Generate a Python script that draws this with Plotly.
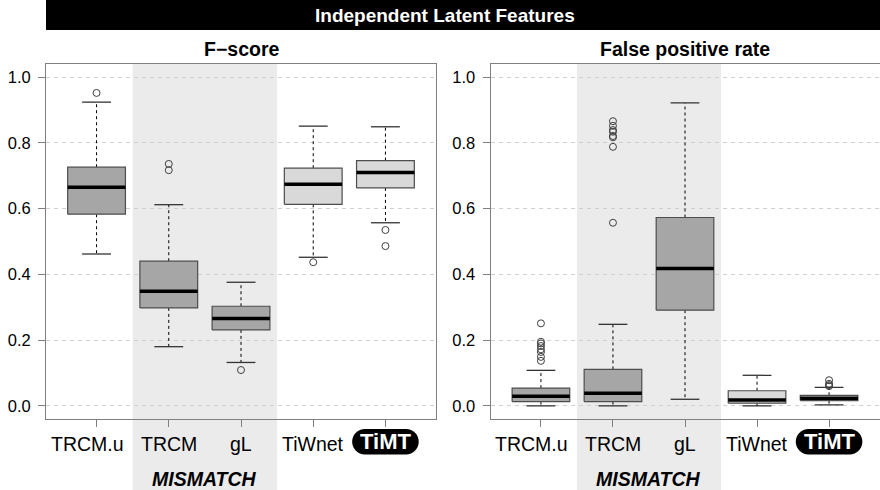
import plotly.graph_objects as go

# ---------------------------------------------------------------------------
# Data: per-method box-plot summaries for the two metrics
# ---------------------------------------------------------------------------
methods = ["TRCM.u", "TRCM", "gL", "TiWnet", "TiMT"]
positions = [1, 2, 3, 4, 5]
fill_groups = ["dark", "dark", "dark", "light", "light"]

# F-score
fs_lower = [0.462, 0.180, 0.132, 0.452, 0.557]
fs_q1 = [0.583, 0.298, 0.231, 0.613, 0.663]
fs_median = [0.665, 0.349, 0.266, 0.674, 0.710]
fs_q3 = [0.726, 0.440, 0.303, 0.723, 0.746]
fs_upper = [0.924, 0.612, 0.376, 0.851, 0.849]
fs_outliers = [[0.952], [0.717, 0.736], [0.109], [0.437], [0.535, 0.486]]

# False positive rate
fpr_lower = [0.000, 0.000, 0.020, 0.000, 0.003]
fpr_q1 = [0.013, 0.013, 0.291, 0.008, 0.016]
fpr_median = [0.029, 0.0385, 0.418, 0.018, 0.023]
fpr_q3 = [0.054, 0.111, 0.573, 0.046, 0.032]
fpr_upper = [0.108, 0.248, 0.922, 0.093, 0.056]
fpr_outliers = [
    [0.137, 0.149, 0.164, 0.172, 0.182, 0.190, 0.195, 0.251],
    [0.557, 0.788, 0.817, 0.821, 0.834, 0.839, 0.852, 0.866],
    [],
    [],
    [0.060, 0.063, 0.067, 0.078],
]

y_tickvals = [0.0, 0.2, 0.4, 0.6, 0.8, 1.0]
y_ticktext = ["0.0", "0.2", "0.4", "0.6", "0.8", "1.0"]

main_title = "Independent Latent Features"
panel_titles = ["F\u2212score", "False positive rate"]
group_label = "MISMATCH"
mismatch_span = (1.5, 3.5)
highlight_method = "TiMT"

# ---------------------------------------------------------------------------
# Styling / layout constants
# ---------------------------------------------------------------------------
W, H = 880, 490
FONT = "Liberation Sans, Arial, Helvetica, sans-serif"
FILLS = {"dark": "#a6a6a6", "light": "#d9d9d9"}
BAND = "#ebebeb"
FRAME = "#808080"
BOX_EDGE = "#4d4d4d"
BOX_W = 0.8
STAPLE_W = 0.4
X_RANGE = [0.3, 5.7]
Y_RANGE = [-0.04, 1.04]

y_dom = [1 - 419 / H, 1 - 64 / H]
x_doms = [[46 / W, 436 / W], [490.5 / W, 879.5 / W]]


def py(px_from_top):
    """Convert a distance from the top edge in pixels to paper y."""
    return 1 - px_from_top / H


panels = [
    dict(title=panel_titles[0], lower=fs_lower, q1=fs_q1, med=fs_median,
         q3=fs_q3, upper=fs_upper, out=fs_outliers),
    dict(title=panel_titles[1], lower=fpr_lower, q1=fpr_q1, med=fpr_median,
         q3=fpr_q3, upper=fpr_upper, out=fpr_outliers),
]

fig = go.Figure()
shapes = []
annotations = []

for i, p in enumerate(panels):
    xa = "x" if i == 0 else "x2"
    ya = "y" if i == 0 else "y2"

    # dashed whiskers
    wx, wy = [], []
    for c, lo, a, b, hi in zip(positions, p["lower"], p["q1"], p["q3"], p["upper"]):
        wx += [c, c, None, c, c, None]
        wy += [b, hi, None, a, lo, None]
    fig.add_trace(go.Scatter(x=wx, y=wy, xaxis=xa, yaxis=ya, mode="lines",
                             line=dict(color="black", width=1, dash="3px,3px"),
                             hoverinfo="skip", showlegend=False))

    # whisker staples
    sx, sy = [], []
    for c, lo, hi in zip(positions, p["lower"], p["upper"]):
        sx += [c - STAPLE_W / 2, c + STAPLE_W / 2, None, c - STAPLE_W / 2, c + STAPLE_W / 2, None]
        sy += [hi, hi, None, lo, lo, None]
    fig.add_trace(go.Scatter(x=sx, y=sy, xaxis=xa, yaxis=ya, mode="lines",
                             line=dict(color="#333333", width=1.3),
                             hoverinfo="skip", showlegend=False))

    # boxes
    for c, a, b, g, name in zip(positions, p["q1"], p["q3"], fill_groups, methods):
        x0, x1 = c - BOX_W / 2, c + BOX_W / 2
        fig.add_trace(go.Scatter(x=[x0, x1, x1, x0, x0], y=[a, a, b, b, a],
                                 xaxis=xa, yaxis=ya, mode="lines", fill="toself",
                                 fillcolor=FILLS[g], line=dict(color=BOX_EDGE, width=1.2),
                                 name=name, hoverinfo="skip", showlegend=False))

    # medians
    mx, my = [], []
    for c, m in zip(positions, p["med"]):
        mx += [c - BOX_W / 2, c + BOX_W / 2, None]
        my += [m, m, None]
    fig.add_trace(go.Scatter(x=mx, y=my, xaxis=xa, yaxis=ya, mode="lines",
                             line=dict(color="black", width=3.5),
                             hoverinfo="skip", showlegend=False))

    # outliers
    ox, oy = [], []
    for c, vals in zip(positions, p["out"]):
        ox += [c] * len(vals)
        oy += list(vals)
    fig.add_trace(go.Scatter(x=ox, y=oy, xaxis=xa, yaxis=ya, mode="markers",
                             marker=dict(symbol="circle-open", size=7,
                                         color="#404040", line=dict(width=1)),
                             hoverinfo="skip", showlegend=False))

    # shaded MISMATCH band, running from the top of the plot to the bottom edge
    shapes.append(dict(type="rect", xref=xa, yref="paper",
                       x0=mismatch_span[0], x1=mismatch_span[1],
                       y0=0, y1=y_dom[1], fillcolor=BAND,
                       line=dict(width=0), layer="below"))

    # panel title
    annotations.append(dict(text=f"<b>{p['title']}</b>", xref="paper", yref="paper",
                            x=(x_doms[i][0] + x_doms[i][1]) / 2, y=py(49),
                            xanchor="center", yanchor="middle", showarrow=False,
                            font=dict(family=FONT, size=19.5, color="black")))

    # category labels
    for c, name in zip(positions, methods):
        if name == highlight_method:
            r, hw = 12.7, 33.3
            k = 0.5523 * r
            path = (
                f"M {-hw + r},{-r} L {hw - r},{-r} "
                f"C {hw - r + k},{-r} {hw},{-k} {hw},0 "
                f"C {hw},{k} {hw - r + k},{r} {hw - r},{r} "
                f"L {-hw + r},{r} "
                f"C {-hw + r - k},{r} {-hw},{k} {-hw},0 "
                f"C {-hw},{-k} {-hw + r - k},{-r} {-hw + r},{-r} Z"
            )
            shapes.append(dict(type="path", xref=xa, yref="paper",
                               xsizemode="pixel", ysizemode="pixel",
                               xanchor=c, yanchor=py(441.7), path=path,
                               fillcolor="black", line=dict(width=0), layer="above"))
            annotations.append(dict(text=f"<b>{name}</b>", xref=xa, yref="paper",
                                    x=c, y=py(441.7), xanchor="center", yanchor="middle",
                                    showarrow=False,
                                    font=dict(family=FONT, size=22, color="white")))
        else:
            annotations.append(dict(text=name, xref=xa, yref="paper",
                                    x=c, y=py(444), xanchor="center", yanchor="middle",
                                    xshift=-9 if name == "TRCM.u" else 0,
                                    showarrow=False,
                                    font=dict(family=FONT, size=19.5, color="black")))

    # group label under the shaded band
    annotations.append(dict(text=f"<b><i>{group_label}</i></b>", xref=xa, yref="paper",
                            x=sum(mismatch_span) / 2, y=py(479),
                            xanchor="center", yanchor="middle", showarrow=False,
                            font=dict(family=FONT, size=19.5, color="black")))

# header bar
shapes.append(dict(type="rect", xref="paper", yref="paper",
                   x0=46 / W, x1=1, y0=py(30), y1=1,
                   fillcolor="black", line=dict(width=0), layer="above"))
annotations.append(dict(text=f"<b>{main_title}</b>", xref="paper", yref="paper",
                        x=445 / W, y=py(16), xanchor="center", yanchor="middle",
                        showarrow=False, font=dict(family=FONT, size=19, color="white")))

axis_common = dict(showline=True, mirror=True, linecolor=FRAME, linewidth=1,
                   ticks="outside", ticklen=7, tickcolor=FRAME, tickwidth=1,
                   zeroline=False, fixedrange=True)

xaxis_common = dict(axis_common, range=X_RANGE, tickvals=positions,
                    showticklabels=False, showgrid=False)
yaxis_common = dict(axis_common, range=Y_RANGE, tickvals=y_tickvals,
                    ticktext=y_ticktext, showgrid=True, gridcolor="#d0d0d0",
                    griddash="4px,4px", gridwidth=1, ticklabelstandoff=4,
                    tickfont=dict(family=FONT, size=16.5, color="black"))

fig.update_layout(
    width=W, height=H,
    margin=dict(l=0, r=0, t=0, b=0),
    paper_bgcolor="white", plot_bgcolor="rgba(0,0,0,0)",
    font=dict(family=FONT, color="black"),
    showlegend=False,
    xaxis=dict(xaxis_common, domain=x_doms[0], anchor="y"),
    yaxis=dict(yaxis_common, domain=y_dom, anchor="x"),
    xaxis2=dict(xaxis_common, domain=x_doms[1], anchor="y2"),
    yaxis2=dict(yaxis_common, domain=y_dom, anchor="x2"),
    shapes=shapes,
    annotations=annotations,
)

fig.write_html("out.html")
